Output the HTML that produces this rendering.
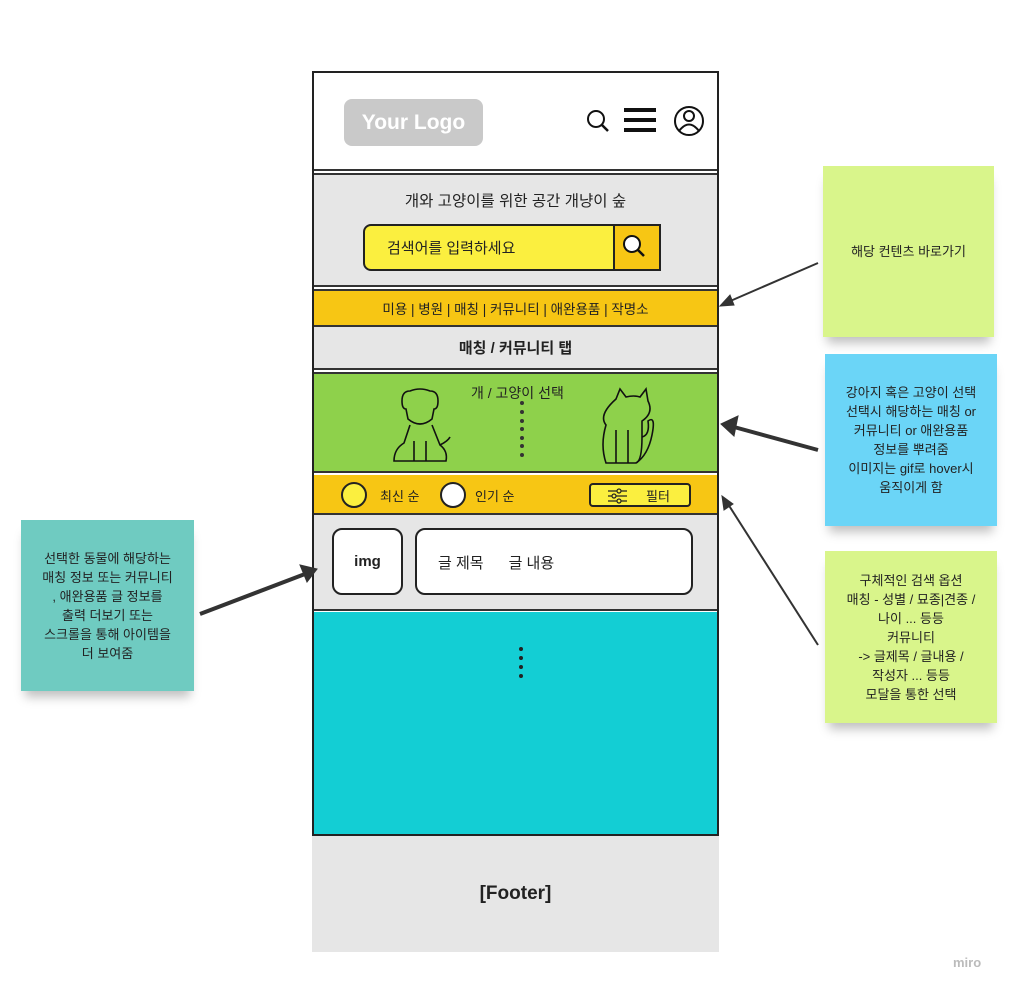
<!DOCTYPE html>
<html><head><meta charset="utf-8"><style>
*{margin:0;padding:0;box-sizing:border-box}
body{width:1009px;height:990px;background:#fff;position:relative;overflow:hidden;font-family:"Liberation Sans","Noto Sans CJK KR",sans-serif;color:#222}
.a{position:absolute}
.c{display:flex;align-items:center;justify-content:center;text-align:center}
.note{position:absolute;font-size:13px;line-height:19px;display:flex;align-items:center;justify-content:center;text-align:center;box-shadow:0 10px 10px -4px rgba(0,0,0,0.25)}
</style></head><body>
<div class="a" style="left:312px;top:71px;width:407px;height:765px;border:2px solid #222"></div>
<div class="a" style="left:314px;top:73px;width:403px;height:98px;background:#fff;border-bottom:2px solid #333"></div>
<div class="a c" style="left:344px;top:99px;width:139px;height:47px;background:#c9c9c9;border-radius:8px;color:#fff;font-weight:bold;font-size:21px">Your Logo</div>
<svg class="a" style="left:580px;top:100px" width="130" height="40">
<circle cx="16" cy="19" r="8" fill="none" stroke="#111" stroke-width="2"/><line x1="22" y1="25" x2="28" y2="31" stroke="#111" stroke-width="2.5"/>
<rect x="44" y="8" width="32" height="4" fill="#111"/><rect x="44" y="18" width="32" height="4" fill="#111"/><rect x="44" y="28" width="32" height="4" fill="#111"/>
<circle cx="109" cy="21" r="14" fill="none" stroke="#111" stroke-width="2"/><circle cx="109" cy="16" r="5" fill="none" stroke="#111" stroke-width="2"/><path d="M99 31 Q109 18 119 31" fill="none" stroke="#111" stroke-width="2"/>
</svg>
<div class="a" style="left:314px;top:173px;width:403px;height:114px;background:#e6e6e6;border-top:2px solid #333;border-bottom:2px solid #333"></div>
<div class="a c" style="left:314px;top:189px;width:403px;height:22px;font-size:15.5px">개와 고양이를 위한 공간 개냥이 숲</div>
<div class="a" style="left:363px;top:224px;width:298px;height:47px;background:#fbef3f;border:2px solid #222;border-radius:8px 0 0 8px"></div>
<div class="a" style="left:613px;top:224px;width:48px;height:47px;background:#f7c614;border:2px solid #222"></div>
<svg class="a" style="left:620px;top:232px" width="34" height="30"><circle cx="12" cy="12" r="8" fill="#fff" stroke="#111" stroke-width="2"/><line x1="18" y1="18" x2="24" y2="24" stroke="#111" stroke-width="2.5"/></svg>
<div class="a" style="left:387px;top:237px;font-size:15px">검색어를 입력하세요</div>
<div class="a c" style="left:314px;top:289px;width:403px;height:38px;background:#f7c614;border-top:2px solid #333;border-bottom:2px solid #333;font-size:13.5px">미용 | 병원 | 매칭 | 커뮤니티 | 애완용품 | 작명소</div>
<div class="a c" style="left:314px;top:327px;width:403px;height:43px;background:#e6e6e6;border-bottom:2px solid #333;font-size:15px;font-weight:bold">매칭 / 커뮤니티 탭</div>
<div class="a" style="left:314px;top:372px;width:403px;height:101px;background:#8ed14b;border-top:2px solid #333;border-bottom:2px solid #333"></div>
<div class="a" style="left:471px;top:383px;font-size:14px">개 / 고양이 선택</div>
<svg class="a" style="left:380px;top:385px" width="290" height="85">
<g fill="#333"><circle cx="142" cy="18" r="2"/><circle cx="142" cy="27" r="2"/><circle cx="142" cy="36" r="2"/><circle cx="142" cy="44" r="2"/><circle cx="142" cy="53" r="2"/><circle cx="142" cy="61" r="2"/><circle cx="142" cy="70" r="2"/></g>
<g fill="none" stroke="#111" stroke-width="1.6">
<path d="M30 6 Q40 2 50 6 Q58 6 58 16 Q58 24 54 24 L52 34 Q40 44 28 34 L26 24 Q22 24 22 16 Q22 6 30 6Z"/>
<path d="M30 40 L24 58 Q14 64 14 76 L66 76 Q68 66 60 60 L52 40"/><path d="M60 60 Q68 56 70 52"/>
<line x1="34" y1="56" x2="34" y2="76"/><line x1="46" y1="56" x2="46" y2="76"/>
<path d="M236 14 L240 4 L246 12 Q254 10 260 12 L266 4 L268 16 Q274 28 262 36 L262 52 Q262 76 256 78 L226 78 Q220 60 226 40 Q218 30 236 14Z"/>
<path d="M262 52 Q270 50 268 36 Q276 30 272 50 Q268 70 256 78"/><line x1="236" y1="45" x2="236" y2="78"/><line x1="248" y1="45" x2="248" y2="78"/>
</g></svg>
<div class="a" style="left:314px;top:475px;width:403px;height:40px;background:#f7c614;border-bottom:2px solid #333"></div>
<div class="a" style="left:341px;top:482px;width:26px;height:26px;border-radius:50%;background:#fbef3f;border:2px solid #222"></div>
<div class="a" style="left:380px;top:486px;font-size:13px">최신 순</div>
<div class="a" style="left:440px;top:482px;width:26px;height:26px;border-radius:50%;background:#fff;border:2px solid #222"></div>
<div class="a" style="left:475px;top:486px;font-size:13px">인기 순</div>
<div class="a" style="left:589px;top:483px;width:102px;height:24px;background:#fbef3f;border:2px solid #222;border-radius:4px"></div>
<svg class="a" style="left:607px;top:487px" width="22" height="18"><g stroke="#222" fill="none" stroke-width="1.2"><line x1="1" y1="4" x2="20" y2="4"/><line x1="1" y1="9" x2="20" y2="9"/><line x1="1" y1="14" x2="20" y2="14"/><circle cx="12" cy="4" r="2" fill="#fbef3f"/><circle cx="7" cy="9" r="2" fill="#fbef3f"/><circle cx="12" cy="14" r="2" fill="#fbef3f"/></g></svg>
<div class="a" style="left:646px;top:486px;font-size:13px">필터</div>
<div class="a" style="left:314px;top:515px;width:403px;height:96px;background:#e6e6e6;border-bottom:2px solid #333"></div>
<div class="a c" style="left:332px;top:528px;width:71px;height:67px;background:#fff;border:2px solid #222;border-radius:10px;font-size:15px;font-weight:bold">img</div>
<div class="a" style="left:415px;top:528px;width:278px;height:67px;background:#fff;border:2px solid #222;border-radius:10px"></div>
<div class="a" style="left:438px;top:552px;font-size:15px">글 제목&nbsp;&nbsp;&nbsp;&nbsp;&nbsp;&nbsp;글 내용</div>
<div class="a" style="left:314px;top:612px;width:403px;height:222px;background:#13ced4"></div>
<svg class="a" style="left:515px;top:645px" width="12" height="36"><g fill="#222"><circle cx="6" cy="4" r="2"/><circle cx="6" cy="13" r="2"/><circle cx="6" cy="22" r="2"/><circle cx="6" cy="31" r="2"/></g></svg>
<div class="a c" style="left:312px;top:836px;width:407px;height:116px;background:#e6e6e6;font-size:19px;font-weight:bold">[Footer]</div>
<div class="note" style="left:823px;top:166px;width:171px;height:171px;background:#d9f58b">해당 컨텐츠 바로가기</div>
<div class="note" style="left:825px;top:354px;width:172px;height:172px;background:#6bd5f7">강아지 혹은 고양이 선택<br>선택시 해당하는 매칭 or<br>커뮤니티 or 애완용품<br>정보를 뿌려줌<br>이미지는 gif로 hover시<br>움직이게 함</div>
<div class="note" style="left:825px;top:551px;width:172px;height:172px;background:#d9f58b">구체적인 검색 옵션<br>매칭 - 성별 / 묘종|견종 /<br>나이 ... 등등<br>커뮤니티<br>-&gt; 글제목 / 글내용 /<br>작성자 ... 등등<br>모달을 통한 선택</div>
<div class="note" style="left:21px;top:520px;width:173px;height:171px;background:#6fcbc1">선택한 동물에 해당하는<br>매칭 정보 또는 커뮤니티<br>, 애완용품 글 정보를<br>출력 더보기 또는<br>스크롤을 통해 아이템을<br>더 보여줌</div>
<svg class="a" style="left:0;top:0" width="1009" height="990">
<g stroke="#333" fill="#333">
<line x1="818" y1="263" x2="728" y2="302" stroke-width="2"/><polygon points="720,306 730,295 734,305" />
<line x1="818" y1="450" x2="734" y2="427" stroke-width="4"/><polygon points="721,424 738,416 734,436"/>
<line x1="818" y1="645" x2="728" y2="504" stroke-width="2"/><polygon points="722,496 724,510 733,504"/>
<line x1="200" y1="614" x2="305" y2="574" stroke-width="4"/><polygon points="317,569 300,565 307,582"/>
</g>
<text x="953" y="967" font-family="Liberation Sans" font-size="13" fill="#bbb" font-weight="bold">miro</text>
</svg>
</body></html>
